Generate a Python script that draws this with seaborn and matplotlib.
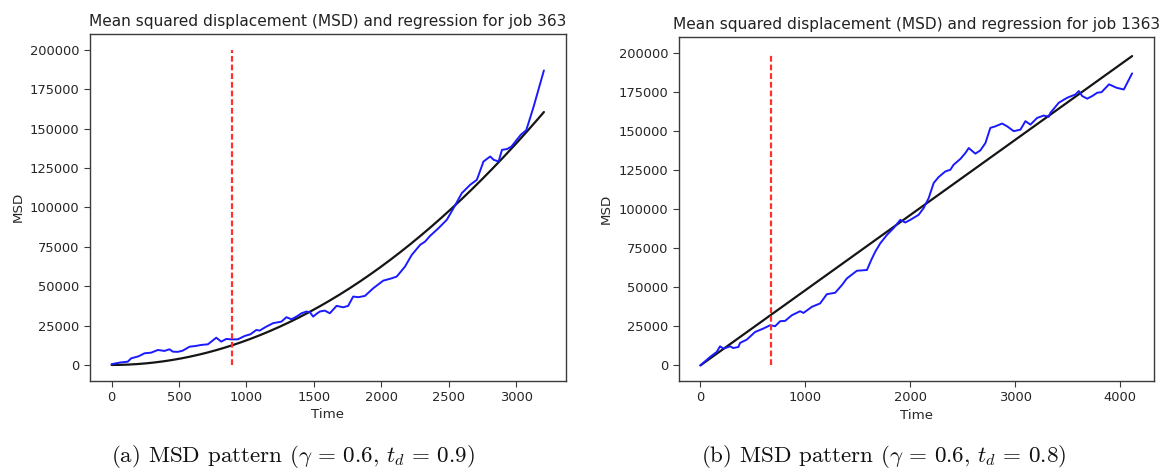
import numpy as np
import pandas as pd
import matplotlib
matplotlib.use("Agg")
import matplotlib.pyplot as plt
import seaborn as sns

# ---- job 363: time / MSD samples ----
job363_time = [0, 60, 120, 145, 200, 244, 293, 343, 392, 429, 454, 490, 528, 578,
               620, 665, 714, 776, 813, 850, 893, 937, 987, 1030, 1073, 1098, 1140,
               1197, 1259, 1296, 1333, 1371, 1408, 1445, 1470, 1494, 1520, 1544,
               1580, 1618, 1668, 1717, 1754, 1791, 1829, 1878, 1940, 2014, 2077,
               2114, 2175, 2225, 2287, 2324, 2361, 2420, 2485, 2535, 2596, 2658,
               2708, 2757, 2807, 2832, 2869, 2894, 2931, 2964, 3033, 3074, 3100,
               3129, 3205]
job363_msd = [500, 1500, 2100, 4200, 5500, 7400, 7800, 9500, 8900, 9950, 8450, 8300,
              9100, 11600, 12000, 12700, 13100, 17300, 14800, 16500, 16200, 16300,
              18400, 19500, 22200, 21800, 24000, 26500, 27500, 30300, 29000, 30700,
              32800, 33900, 33500, 30700, 32500, 33900, 34500, 32800, 37500, 36600,
              37500, 43400, 43000, 43800, 48700, 53500, 55000, 56100, 62400, 69800,
              76200, 78300, 81900, 86500, 92100, 99500, 109000, 114300, 117500,
              129100, 132300, 130200, 129100, 136500, 137000, 138600, 146000,
              149000, 156000, 164000, 186900]

# ---- job 1363: time / MSD samples ----
job1363_time = [0, 92, 155, 187, 219, 282, 314, 362, 378, 442, 521, 600, 664, 712,
                760, 807, 871, 950, 982, 1062, 1141, 1205, 1284, 1348, 1396, 1491,
                1587, 1628, 1666, 1714, 1778, 1841, 1905, 1952, 2000, 2079, 2127,
                2175, 2223, 2270, 2334, 2382, 2413, 2477, 2525, 2557, 2620, 2668,
                2716, 2763, 2811, 2875, 2923, 2986, 3050, 3097, 3145, 3209, 3272,
                3320, 3336, 3415, 3495, 3574, 3606, 3638, 3686, 3734, 3781, 3823,
                3894, 3965, 4035, 4114]
job1363_msd = [0, 5400, 8600, 12200, 10700, 12200, 11100, 11800, 14400, 16500, 21400,
               23600, 25700, 25100, 28300, 28500, 32100, 34700, 33600, 37500, 39700,
               45600, 46500, 51400, 55700, 60600, 61100, 67500, 72800, 78200, 83600,
               87900, 93200, 91500, 93200, 96400, 100700, 107100, 116800, 120600,
               124200, 125300, 128500, 132200, 136000, 139200, 135600, 137700,
               142400, 152100, 153100, 154900, 153100, 150000, 151000, 156400,
               154200, 158500, 160000, 159200, 161800, 168200, 171400, 173500,
               175700, 172500, 170800, 172500, 174600, 175000, 180000, 177800,
               176700, 187000]

# regression parameters (power law a*t^b for job 363, linear for job 1363)
job363_fit_coef, job363_fit_power = 0.015625, 2.0
job1363_fit_slope, job1363_fit_intercept = 48.15, 0.0

# transition time markers and their height
job363_td = 895
job1363_td = 668
marker_top = 200000

titles = ["Mean squared displacement (MSD) and regression for job 363",
          "Mean squared displacement (MSD) and regression for job 1363"]
captions = [r"(a) MSD pattern ($\gamma\,=\,0.6,\,t_d\,=\,0.9$)",
            r"(b) MSD pattern ($\gamma\,=\,0.6,\,t_d\,=\,0.8$)"]

sns.set_style("ticks")
plt.rcParams.update({
    "font.family": ["DejaVu Sans"],
    "mathtext.fontset": "cm",
    "axes.edgecolor": "#3a3a3a",
    "axes.linewidth": 1.0,
    "xtick.color": "#3a3a3a",
    "ytick.color": "#3a3a3a",
    "xtick.labelcolor": "#262626",
    "ytick.labelcolor": "#262626",
    "xtick.direction": "out",
    "ytick.direction": "out",
    "xtick.major.size": 4,
    "ytick.major.size": 4,
    "axes.grid": False,
})

fig = plt.figure(figsize=(11.67, 4.72), dpi=100)
ax1 = fig.add_axes([0.0771, 0.1934, 0.4075, 0.7345])
ax2 = fig.add_axes([0.5817, 0.1928, 0.4069, 0.7278])

panels = [
    (ax1, job363_time, job363_msd, job363_td,
     lambda t: job363_fit_coef * t ** job363_fit_power),
    (ax2, job1363_time, job1363_msd, job1363_td,
     lambda t: job1363_fit_slope * t + job1363_fit_intercept),
]

for i, (ax, tt, msd, td, fit) in enumerate(panels):
    t_grid = np.linspace(0, tt[-1], 300)
    fit_df = pd.DataFrame({"Time": t_grid, "MSD": fit(t_grid)})
    msd_df = pd.DataFrame({"Time": tt, "MSD": msd})
    sns.lineplot(data=fit_df, x="Time", y="MSD", ax=ax, color="#151515",
                 linewidth=1.6, estimator=None, sort=False)
    sns.lineplot(data=msd_df, x="Time", y="MSD", ax=ax, color="#1a1aff",
                 linewidth=1.4, estimator=None, sort=False)
    ax.vlines(td, 0, marker_top, colors="#ff3030", linestyles=(0, (2.6, 1.3)),
              linewidth=1.6)
    ax.margins(x=0.05, y=0.05)
    ax.set_title(titles[i], fontsize=11.1, color="#222222", pad=6)
    ax.set_xlabel("Time", fontsize=9.6, color="#262626", labelpad=3)
    ax.set_ylabel("MSD", fontsize=9.6, color="#262626")
    ax.tick_params(labelsize=9.4)
    for s in ax.spines.values():
        s.set_visible(True)

fig.text(292.6 / 1167, 1 - 456 / 472, captions[0], ha="center", va="center",
         fontsize=16.6, family="cmr10", color="#111111")
fig.text(883.5 / 1167, 1 - 456 / 472, captions[1], ha="center", va="center",
         fontsize=16.6, family="cmr10", color="#111111")

fig.savefig("out.png", dpi=100)
